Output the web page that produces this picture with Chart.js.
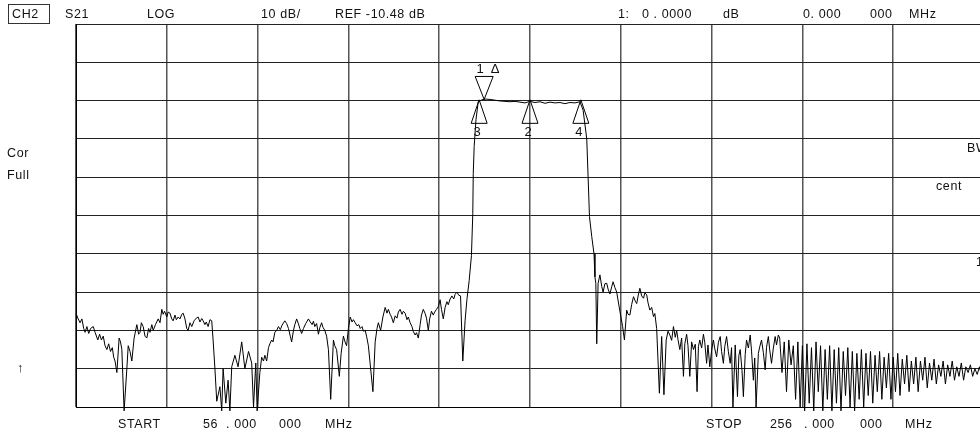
<!DOCTYPE html>
<html><head><meta charset="utf-8">
<script src="https://cdn.jsdelivr.net/npm/chart.js@4"></script>
<style>
html,body{margin:0;padding:0;overflow:hidden;background:#fff;width:980px;height:435px}
#wrap{position:relative;width:980px;height:435px;overflow:hidden;background:#fff}
canvas{position:absolute;left:0;top:0}
.t{position:absolute;font-family:"Liberation Sans",Arial,sans-serif;font-size:12.5px;letter-spacing:0.6px;color:#111;white-space:pre;line-height:14px}
#ch{position:absolute;left:8px;top:4px;width:40px;height:18px;border:1px solid #333}
</style></head><body>
<div id="wrap">
<canvas id="c" width="1000" height="435"></canvas>
<div id="ch"></div>
<div class="t" style="left:12px;top:7px">CH2</div>
<div class="t" style="left:65px;top:7px">S21</div>
<div class="t" style="left:147px;top:7px">LOG</div>
<div class="t" style="left:261px;top:7px">10 dB/</div>
<div class="t" style="left:335px;top:7px">REF -10.48 dB</div>
<div class="t" style="left:618px;top:7px">1:</div>
<div class="t" style="left:642px;top:7px">0 . 0000</div>
<div class="t" style="left:723px;top:7px">dB</div>
<div class="t" style="left:803px;top:7px">0. 000</div>
<div class="t" style="left:870px;top:7px">000</div>
<div class="t" style="left:909px;top:7px">MHz</div>
<div class="t" style="left:7px;top:146px">Cor</div>
<div class="t" style="left:7px;top:168px">Full</div>
<div class="t" style="left:17px;top:361px">↑</div>
<div class="t" style="left:967px;top:141px">BW</div>
<div class="t" style="left:936px;top:179px">cent</div>
<div class="t" style="left:976px;top:255px">1</div>
<div class="t" style="left:118px;top:417px">START</div>
<div class="t" style="left:203px;top:417px">56</div>
<div class="t" style="left:226px;top:417px">. 000</div>
<div class="t" style="left:279px;top:417px">000</div>
<div class="t" style="left:325px;top:417px">MHz</div>
<div class="t" style="left:706px;top:417px">STOP</div>
<div class="t" style="left:770px;top:417px">256</div>
<div class="t" style="left:804px;top:417px">. 000</div>
<div class="t" style="left:860px;top:417px">000</div>
<div class="t" style="left:905px;top:417px">MHz</div>
</div>
<script>
// Grid (tick) values: 56..256 MHz, 20 MHz/div ; 10 dB/div
const gridFreqMHz = [56, 76, 96, 116, 136, 156, 176, 196, 216, 236, 256];
const gridDB = [10, 0, -10, -20, -30, -40, -50, -60, -70, -80, -90];

// S21 trace [MHz, dB], lower stopband
const stopbandLow = [
[56.0,-65.5],[56.4,-66.8],[56.9,-68],[57.3,-67],[57.7,-69.5],[58.0,-70.5],[58.4,-69],[58.8,-70.8],[59.2,-69.5],[59.8,-69],
[60.2,-70.5],[60.8,-72.5],[61.2,-71],[61.6,-72.5],[62.0,-71.5],[62.4,-74],[62.8,-75],[63.2,-73.5],[63.6,-75.5],[64.0,-74.5],
[64.3,-77],[64.6,-78],[65.0,-81],[65.5,-72],[65.8,-73],[66.1,-75],[66.6,-91],[67.2,-80],[67.5,-74],[67.9,-75.5],
[68.3,-78],[68.8,-72],[69.4,-68.5],[69.8,-71],[70.1,-70.5],[70.4,-68],[70.8,-69],[71.2,-71.5],[71.6,-72],[72.0,-69.5],
[72.3,-70.5],[72.7,-68.5],[73.0,-70],[73.5,-68.5],[74.1,-67],[74.5,-68],[74.9,-64.5],[75.2,-65.8],[75.5,-65],[76.0,-66.5],
[76.3,-65.2],[76.7,-65.5],[77.1,-67],[77.4,-67.5],[77.8,-66],[78.1,-67.2],[78.5,-66.5],[78.9,-67],[79.3,-65.8],[79.6,-65.5],
[80.0,-67],[80.4,-69.5],[80.7,-70],[81.1,-68],[81.5,-69],[82.0,-67.5],[82.5,-66.8],[82.9,-66.5],[83.3,-67.8],[83.7,-66.9],
[84.0,-67.5],[84.4,-68.5],[84.7,-67.8],[85.1,-69],[85.5,-67.2],[85.9,-67.5],[86.2,-72.5],[86.6,-80],[87.0,-88.5],[87.7,-84.7],
[88.1,-91],[88.4,-80],[89.0,-89],[89.5,-83],[89.9,-91],[90.3,-79.5],[91.0,-76.5],[91.7,-79.5],[92.5,-73],[93.2,-80],
[94.0,-75.5],[94.7,-78.5],[95.1,-90],[95.6,-78.5],[95.9,-91],[96.5,-81],[96.9,-77],[97.3,-78],[97.6,-76.5],[98.0,-78],
[98.4,-74.5],[98.7,-73.5],[99.1,-72.5],[99.4,-73],[99.8,-70.5],[100.2,-70],[100.6,-69],[101.0,-69.8],[101.4,-68.6],[102.0,-67.5],
[102.4,-68.2],[102.8,-69.5],[103.2,-71.5],[103.5,-73],[103.9,-70],[104.2,-68.5],[104.6,-67],[105.0,-68.3],[105.3,-69.5],[105.7,-70.8],
[106.1,-69.5],[106.6,-68.2],[107.2,-67],[107.6,-67.8],[108.0,-68.5],[108.3,-67.6],[108.6,-69],[109.0,-68.2],[109.4,-71],[109.7,-69.3],
[110.1,-68],[110.4,-69.2],[110.8,-70],[111.2,-71.5],[111.6,-75],[112.1,-88],[112.7,-72.5],[113.0,-74],[113.4,-75],[114.0,-82],
[114.4,-76],[114.9,-71.5],[115.2,-72.8],[115.6,-74],[116.0,-69.5],[116.4,-66.5],[116.8,-67.8],[117.1,-67.2],[117.5,-68],[117.9,-68.8],
[118.3,-68.5],[118.6,-69.5],[119.0,-69],[119.3,-70.2],[119.7,-70],[120.0,-71.5],[120.4,-74],[121.4,-86],[121.9,-73],[122.3,-69.5],
[122.6,-68],[123.1,-70],[123.6,-66.5],[124.1,-64],[124.5,-65.5],[124.8,-64.5],[125.2,-65.8],[125.5,-66.5],[125.9,-68],[126.3,-66.2],
[126.7,-66.8],[127.0,-65.2],[127.4,-64.5],[127.8,-65.8],[128.1,-65],[128.5,-65.5],[128.9,-67.2],[129.2,-66.5],[129.6,-68],[130.0,-69],
[130.3,-70.3],[130.7,-71.2],[131.0,-70.6],[131.4,-72],[131.8,-68.5],[132.1,-66],[132.5,-64.5],[132.9,-65.6],[133.2,-66.8],[133.6,-70],
[133.9,-67],[134.3,-65],[134.7,-66],[135.0,-65.2],[135.4,-64.5],[135.8,-63.8],[136.2,-62],[136.5,-64.5],[136.9,-67],[137.3,-64],
[137.7,-62.5],[138.0,-63.3],[138.4,-61.8],[138.8,-61],[139.2,-61.8],[139.5,-60.6],[139.9,-60],[140.3,-60.8],[140.7,-61],[141.2,-78],
[141.7,-67.5],[142.1,-62],[142.6,-57]
];
// passband
const passband = [
[143.1,-50.5],[143.4,-39.5],[143.5,-29],[143.7,-22],[144.1,-15],[144.6,-10.3],[145.4,-9.8],[146.3,-9.6],[147.2,-9.7],[148.3,-9.9],
[149.4,-10.1],[150.5,-10.2],[151.6,-10.3],[152.7,-10.2],[153.8,-10.4],[154.9,-10.6],[156.0,-10.2],[157.1,-10.5],[158.2,-10.3],[159.3,-10.7],
[160.4,-10.4],[161.5,-10.6],[162.6,-10.5],[163.7,-10.8],[164.8,-10.5],[165.9,-10.6],[167.0,-10.3],[167.7,-12.5],[168.5,-20],[168.8,-30],
[169.1,-40.3],[169.6,-45.5],[170.1,-50]
];
// upper stopband
const stopbandHigh = [
[170.3,-56],[170.5,-57.7],[170.7,-73.5],[171.0,-57.7],[171.4,-55.5],[171.8,-58.5],[172.1,-60],[172.5,-57.8],[172.9,-57.7],[173.2,-59.2],
[173.6,-60.5],[174.0,-58.6],[174.3,-57.3],[174.7,-58.8],[175.1,-60],[175.8,-65],[176.4,-69],[176.8,-72.5],[177.3,-64.7],[177.6,-65.8],
[178.0,-66],[178.4,-63.2],[178.8,-61.2],[179.2,-62.4],[179.5,-63],[179.9,-60.5],[180.2,-59],[180.6,-61],[181.0,-61.6],[181.3,-60.2],
[181.7,-60.7],[182.0,-62.8],[182.4,-64.7],[182.8,-64],[183.2,-66.4],[183.5,-65.6],[183.9,-69.5],[184.5,-86.4],[185.0,-71.6],[185.5,-86.8],
[186.0,-72.5],[186.4,-70.2],[186.8,-71.2],[187.2,-72.6],[187.6,-69],[188.0,-71.8],[188.3,-70],[188.6,-72.4],[189.0,-75],[189.4,-72],
[189.8,-82],[190.1,-73.5],[190.5,-71],[190.8,-74],[191.2,-82],[191.6,-73],[192.0,-75],[192.4,-73.6],[192.8,-86],[193.1,-74.2],
[193.4,-72.5],[193.8,-74.6],[194.2,-71],[194.5,-73.2],[194.9,-78.6],[195.2,-73.8],[195.6,-79.5],[196.0,-75.2],[196.4,-72.5],[196.7,-74.8],
[197.1,-76.9],[197.5,-73.1],[197.9,-71.6],[198.2,-75.5],[198.6,-78.6],[198.9,-74.2],[199.3,-71.6],[199.7,-75.6],[200.1,-78.6],[200.4,-74.5],
[200.7,-90],[201.2,-73.8],[201.7,-87.3],[202.0,-76.6],[202.3,-75],[202.7,-80.5],[203.0,-87.3],[203.4,-76.3],[203.7,-72.5],[204.1,-74.6],
[204.5,-71.2],[204.8,-75.4],[205.2,-83],[205.5,-77.2],[205.8,-90],[206.3,-76],[206.6,-74.3],[207.0,-72.5],[207.4,-75.8],[207.8,-80.3],
[208.1,-74.4],[208.5,-71.6],[208.8,-75.1],[209.2,-78.6],[209.6,-74.6],[210.0,-71.6],[210.3,-73.8],[210.7,-71.2],
[211.0,-72],[211.5,-81],[212.0,-73],[212.5,-86],[213.0,-72.5],[213.5,-79],[214.0,-74],[214.5,-88],[215.0,-73],[215.5,-90],
[216.0,-74],[216.5,-91],[217.0,-73.5],[217.5,-89],[218.0,-74.5],[218.5,-91],[219.0,-73],[219.5,-86],[220.0,-74],[220.5,-91],
[221.0,-75],[221.5,-88],[222.0,-74],[222.5,-91],[223.0,-75],[223.5,-89],[224.0,-74.5],[224.5,-91],[225.0,-75.5],[225.5,-87],
[226.0,-74.5],[226.5,-90],[227.0,-75.5],[227.5,-91],[228.0,-76],[228.5,-88],[229.0,-75],[229.5,-90],[230.0,-76],[230.5,-87],
[231.0,-75.5],[231.5,-89],[232.0,-76.5],[232.5,-86],[233.0,-75.5],[233.5,-88],[234.0,-77],[234.5,-85],[235.0,-76],[235.5,-88],
[236.0,-77],[236.5,-86],[237.0,-76],[237.5,-87],[238.0,-77.5],[238.5,-84],[239.0,-76.5],[239.5,-86],[240.0,-78],[240.5,-84],
[241.0,-77],[241.5,-86],[242.0,-78],[242.5,-83],[243.0,-77],[243.5,-85],[244.0,-78.5],[244.5,-83],[245.0,-77.5],[245.5,-84],
[246.0,-79],[246.5,-82],[247.0,-78],[247.5,-84],[248.0,-79],[248.5,-82],[249.0,-78],[249.5,-83],[250.0,-79.5],[250.5,-82],
[251.0,-78.5],[251.5,-83],[252.0,-79.5],[252.5,-81],[253.0,-79],[253.5,-82],[254.0,-80],[254.5,-81.5],[255.0,-79.5],[255.5,-82],
[256.0,-80]
];

// Markers
const markerLabels = ['1', '2', '3', '4'];
const markerFreqMHz = [145.9, 156.0, 144.8, 167.2];
const markerDB = [-9.7, -9.8, -9.8, -9.8];
const markerIsRef = [true, false, false, false];

const trace = stopbandLow.concat(passband, stopbandHigh).map(p => ({x: p[0], y: p[1]}));

const FONT = '13px "Liberation Sans", Arial, sans-serif';
const markerPlugin = {
  id: 'markers',
  afterDatasetsDraw(chart) {
    const {ctx, scales: {x, y}} = chart;
    ctx.save();
    ctx.strokeStyle = '#000';
    ctx.fillStyle = '#111';
    ctx.lineWidth = 1;
    ctx.font = FONT;
    ctx.textAlign = 'center';
    ctx.textBaseline = 'middle';
    markerFreqMHz.forEach((f, i) => {
      const px = x.getPixelForValue(f);
      const py = y.getPixelForValue(markerDB[i]);
      ctx.beginPath();
      if (markerIsRef[i]) {
        ctx.moveTo(px, py);
        ctx.lineTo(px - 9, py - 23);
        ctx.lineTo(px + 9, py - 23);
        ctx.closePath();
        ctx.stroke();
        ctx.fillText(markerLabels[i], px - 4, py - 30);
        ctx.fillText('Δ', px + 11, py - 30);
      } else {
        ctx.moveTo(px, py);
        ctx.lineTo(px - 8, py + 23.5);
        ctx.lineTo(px + 8, py + 23.5);
        ctx.closePath();
        ctx.stroke();
        ctx.fillText(markerLabels[i], px - 2, py + 33);
      }
    });
    ctx.restore();
  }
};

new Chart(document.getElementById('c'), {
  type: 'scatter',
  data: {
    datasets: [{
      data: trace,
      showLine: true,
      borderColor: '#000',
      borderWidth: 1,
      pointRadius: 0,
      tension: 0,
      clip: {left: 0, top: 0, right: 0, bottom: 5}
    }]
  },
  options: {
    responsive: false,
    animation: false,
    devicePixelRatio: 1,
    layout: {padding: {left: 76, top: 24, right: 16, bottom: 28}},
    plugins: {legend: {display: false}, tooltip: {enabled: false}},
    scales: {
      x: {
        type: 'linear', min: 56, max: 256,
        afterBuildTicks: ax => { ax.ticks = gridFreqMHz.map(v => ({value: v})); },
        ticks: {display: false},
        grid: {color: '#555', lineWidth: 1.5, drawTicks: false},
        border: {display: true, color: '#000', width: 1}
      },
      y: {
        type: 'linear', min: -90, max: 10,
        afterBuildTicks: ax => { ax.ticks = gridDB.map(v => ({value: v})); },
        ticks: {display: false},
        grid: {color: '#222', lineWidth: 1, drawTicks: false},
        border: {display: true, color: '#000', width: 1}
      }
    }
  },
  plugins: [markerPlugin]
});
</script>
</body></html>
